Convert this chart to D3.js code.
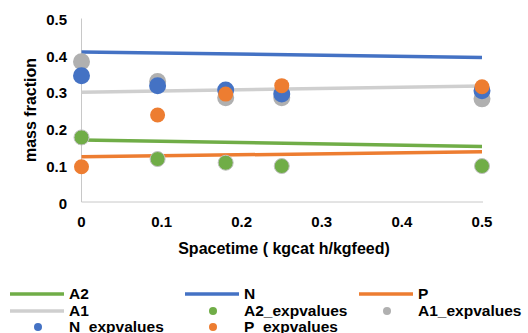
<!DOCTYPE html>
<html>
<head>
<meta charset="utf-8">
<script src="https://cdn.jsdelivr.net/npm/d3@7"></script>
<style>
  body { margin: 0; background: #fff; }
  text { font-family: "Liberation Sans", Arial, sans-serif; font-weight: bold; fill: #000; }
</style>
</head>
<body>
<div id="chart"></div>
<script>
// model lines (endpoints)
var line_x = [0, 0.5];
var A2 = [0.169, 0.151];
var N = [0.409, 0.394];
var P = [0.123, 0.137];
var A1 = [0.299, 0.316];

// experimental values
var exp_x = [0, 0.095, 0.18, 0.25, 0.5];
var A2_exp = [0.176, 0.117, 0.107, 0.098, 0.098];
var A1_exp = [0.382, 0.328, 0.284, 0.284, 0.281];
var N_exp = [0.344, 0.317, 0.305, 0.294, 0.303];
var P_exp = [0.096, 0.237, 0.294, 0.317, 0.314];

var x_ticks = [0, 0.1, 0.2, 0.3, 0.4, 0.5];
var y_ticks = [0, 0.1, 0.2, 0.3, 0.4, 0.5];

var chart_width = 528;
var chart_height = 333;
var svg = d3.select('#chart')
    .append('svg')
    .attr('width', chart_width)
    .attr('height', chart_height);

var x_scale = d3.scaleLinear().domain([0, 0.5]).range([81.5, 482]);
var y_scale = d3.scaleLinear().domain([0, 0.5]).range([202, 18.5]);

// axes lines
svg.append('line')
    .attr('x1', x_scale(0)).attr('x2', x_scale(0))
    .attr('y1', y_scale(0.5)).attr('y2', y_scale(0))
    .attr('stroke', '#c8c8c8').attr('stroke-width', 1);
svg.append('line')
    .attr('x1', x_scale(0)).attr('x2', x_scale(0.5) + 1)
    .attr('y1', y_scale(0)).attr('y2', y_scale(0))
    .attr('stroke', '#c8c8c8').attr('stroke-width', 1);

// tick labels
svg.selectAll('.ytick')
    .data(y_ticks)
    .enter()
    .append('text')
    .attr('class', 'ytick')
    .text(function (d) { return d; })
    .attr('x', 67)
    .attr('y', function (d) { return y_scale(d) + 6.5; })
    .attr('font-size', 15)
    .attr('text-anchor', 'end');

svg.selectAll('.xtick')
    .data(x_ticks)
    .enter()
    .append('text')
    .attr('class', 'xtick')
    .text(function (d) { return d; })
    .attr('x', function (d) { return x_scale(d); })
    .attr('y', 226.5)
    .attr('font-size', 15)
    .attr('text-anchor', 'middle');

// axis titles
svg.append('text')
    .text('mass fraction')
    .attr('transform', 'translate(36,110) rotate(-90)')
    .attr('font-size', 16)
    .attr('text-anchor', 'middle');
svg.append('text')
    .text('Spacetime ( kgcat h/kgfeed)')
    .attr('x', 284)
    .attr('y', 253.5)
    .attr('font-size', 16)
    .attr('text-anchor', 'middle');

var colors = { A2: '#70ad47', N: '#4472c4', P: '#ed7d31', A1: '#cfcfcf', A1m: '#b0b0b0' };

// model lines
var line = d3.line()
    .x(function (d) { return x_scale(d[0]); })
    .y(function (d) { return y_scale(d[1]); });

[[A2, colors.A2], [N, colors.N], [P, colors.P], [A1, colors.A1]].forEach(function (s) {
    svg.append('path')
        .datum(d3.zip(line_x, s[0]))
        .attr('d', line)
        .attr('fill', 'none')
        .attr('stroke', s[1])
        .attr('stroke-width', 3.5);
});

// experimental points
[[A2_exp, colors.A2, 7.5], [A1_exp, colors.A1m, 8.5], [N_exp, colors.N, 8.5], [P_exp, colors.P, 7.5]].forEach(function (s) {
    svg.selectAll(null)
        .data(d3.zip(exp_x, s[0]))
        .enter()
        .append('circle')
        .attr('cx', function (d) { return x_scale(d[0]); })
        .attr('cy', function (d) { return y_scale(d[1]); })
        .attr('r', s[2])
        .attr('fill', s[1])
        .attr('stroke', s[1] === colors.A2 ? '#c0c0c0' : 'none')
        .attr('stroke-width', 1);
});

// legend
var legend = [
    { name: 'A2', type: 'line', color: colors.A2, x: 10, y: 294 },
    { name: 'N', type: 'line', color: colors.N, x: 185, y: 294 },
    { name: 'P', type: 'line', color: colors.P, x: 359, y: 294 },
    { name: 'A1', type: 'line', color: colors.A1, x: 10, y: 311 },
    { name: 'A2_expvalues', type: 'dot', color: colors.A2, x: 185, y: 311 },
    { name: 'A1_expvalues', type: 'dot', color: colors.A1m, x: 359, y: 311 },
    { name: 'N_expvalues', type: 'dot', color: colors.N, x: 10, y: 327 },
    { name: 'P_expvalues', type: 'dot', color: colors.P, x: 185, y: 327 }
];

var items = svg.selectAll('.legend')
    .data(legend)
    .enter()
    .append('g')
    .attr('class', 'legend')
    .attr('transform', function (d) { return 'translate(' + d.x + ',' + d.y + ')'; });

items.filter(function (d) { return d.type === 'line'; })
    .append('line')
    .attr('x1', 0).attr('x2', 54).attr('y1', 0).attr('y2', 0)
    .attr('stroke', function (d) { return d.color; })
    .attr('stroke-width', 3.5);

items.filter(function (d) { return d.type === 'dot'; })
    .append('circle')
    .attr('cx', 28).attr('cy', 0).attr('r', 4)
    .attr('fill', function (d) { return d.color; });

items.append('text')
    .text(function (d) { return d.name; })
    .attr('x', 59)
    .attr('y', 4.5)
    .attr('font-size', 15.5);
</script>
</body>
</html>
